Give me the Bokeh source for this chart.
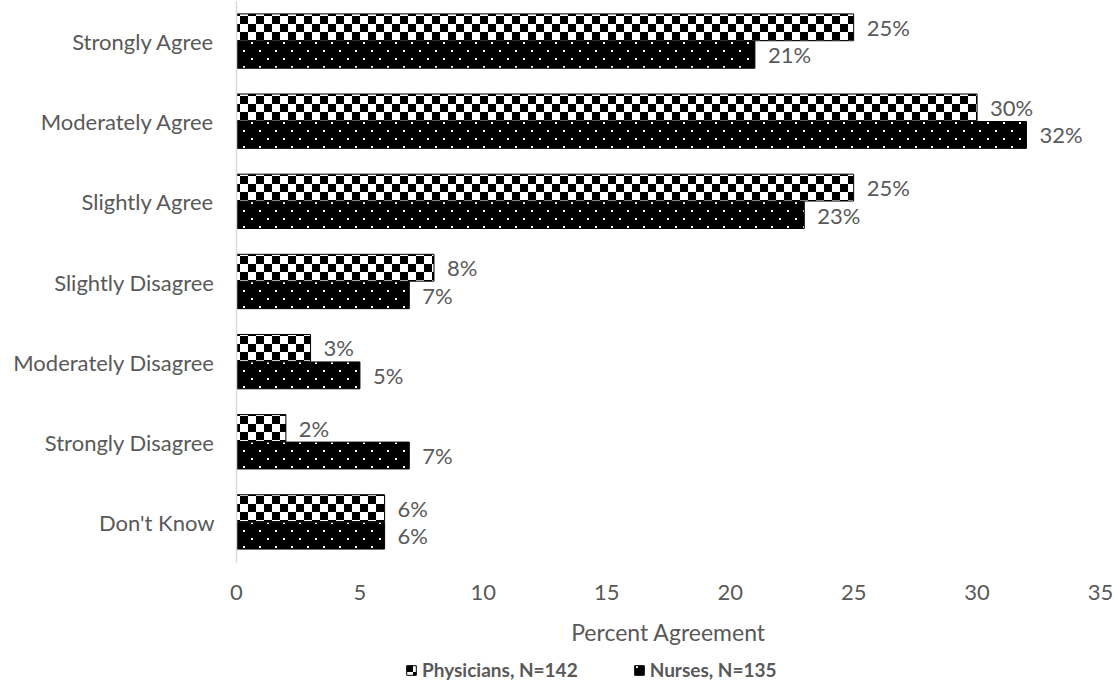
from bokeh.plotting import figure
from bokeh.models import (ColumnDataSource, FactorRange, Range1d, Legend, LegendItem,
                          CanvasTexture, FixedTicker, LabelSet)
from bokeh.core.properties import value
from bokeh.layouts import column
from bokeh.transform import dodge
from bokeh.embed import file_html
from bokeh.resources import INLINE

categories = ["Strongly Agree", "Moderately Agree", "Slightly Agree", "Slightly Disagree",
              "Moderately Disagree", "Strongly Disagree", "Don't Know"]
physicians = [25, 30, 25, 8, 3, 2, 6]
nurses = [21, 32, 23, 7, 5, 7, 6]
x_ticks = [0, 5, 10, 15, 20, 25, 30, 35]
series_names = ["Physicians, N=142", "Nurses, N=135"]

FONT = "Lato"
GRAY = "#595959"

src = ColumnDataSource(dict(
    cat=categories,
    phys=physicians,
    nurs=nurses,
    phys_lbl=[f"{v}%" for v in physicians],
    nurs_lbl=[f"{v}%" for v in nurses],
))

# checkerboard tile (16 px): two black 8 px squares
checker = CanvasTexture(code="""
const c = ctx.canvas;
c.width = 16; c.height = 16;
const g = c.getContext("2d");
g.setTransform(1, 0, 0, 1, 0, 0);
g.fillStyle = "#000000";
g.fillRect(0, 0, 8, 8);
g.fillRect(8, 8, 8, 8);
""")

# staggered white 2 px dots (16 px tile)
dots = CanvasTexture(code="""
const c = ctx.canvas;
c.width = 16; c.height = 16;
const g = c.getContext("2d");
g.setTransform(1, 0, 0, 1, 0, 0);
g.fillStyle = "#ffffff";
g.fillRect(3, 2, 2, 2);
g.fillRect(11, 10, 2, 2);
""")

PHYS_STYLE = dict(fill_color="white", line_color="black", line_width=1,
                  hatch_pattern=value("chk"), hatch_extra={"chk": checker},
                  hatch_color="black", hatch_scale=16)
NURS_STYLE = dict(fill_color="black", line_color="black", line_width=1,
                  hatch_pattern=value("dts"), hatch_extra={"dts": dots},
                  hatch_color="white", hatch_scale=16)

p = figure(
    frame_width=864, frame_height=561,
    y_range=FactorRange(*reversed(categories), range_padding=0),
    x_range=Range1d(0, 35),
    output_backend="svg", toolbar_location=None,
    min_border_left=236, min_border_right=18, min_border_top=1, min_border_bottom=0,
)
p.outline_line_color = None
p.xgrid.visible = False
p.ygrid.visible = False

bar_h = 0.335
p.hbar(y=dodge("cat", 0.178, range=p.y_range), right="phys", left=0, height=bar_h,
       source=src, **PHYS_STYLE)
p.hbar(y=dodge("cat", -0.165, range=p.y_range), right="nurs", left=0, height=bar_h,
       source=src, **NURS_STYLE)

for col, lbl, off in (("phys", "phys_lbl", 0.178), ("nurs", "nurs_lbl", -0.165)):
    p.add_layout(LabelSet(x=col, y=dodge("cat", off, range=p.y_range), text=lbl, source=src,
                          x_offset=13, text_baseline="middle", text_font=value(FONT),
                          text_font_size="22px", text_color=GRAY))

# x axis
xa = p.xaxis[0]
xa.ticker = FixedTicker(ticks=x_ticks)
xa.axis_line_color = None
xa.major_tick_line_color = None
xa.minor_tick_line_color = None
xa.major_tick_out = 0
xa.major_label_text_font = FONT
xa.major_label_text_font_size = "22px"
xa.major_label_text_color = GRAY
xa.major_label_standoff = 22
xa.axis_label = "Percent Agreement"
xa.axis_label_text_font = FONT
xa.axis_label_text_font_style = "normal"
xa.axis_label_text_font_size = "23px"
xa.axis_label_text_color = GRAY
xa.axis_label_standoff = 15

# y axis
ya = p.yaxis[0]
ya.axis_line_color = "#d9d9d9"
ya.axis_line_width = 1.5
ya.major_tick_line_color = None
ya.minor_tick_line_color = None
ya.major_tick_out = 0
ya.major_label_text_font = FONT
ya.major_label_text_font_size = "22px"
ya.major_label_text_color = GRAY
ya.major_label_standoff = 22

# legend strip underneath the chart; its glyphs are hidden stand-ins for the bars
leg = figure(frame_width=1118, frame_height=36, output_backend="svg", toolbar_location=None,
             x_axis_location=None, y_axis_location=None, min_border=0,
             x_range=Range1d(0, 1), y_range=Range1d(0, 1))
leg.outline_line_color = None
leg.xgrid.visible = False
leg.ygrid.visible = False
g_phys = leg.hbar(y="phys", right="phys", left=0, height=1, source=src, visible=False,
                  **PHYS_STYLE)
g_nurs = leg.hbar(y="nurs", right="nurs", left=0, height=1, source=src, visible=False,
                  **NURS_STYLE)

legend = Legend(
    items=[LegendItem(label=series_names[0], renderers=[g_phys]),
           LegendItem(label=series_names[1], renderers=[g_nurs])],
    orientation="horizontal", location=(405, 3), click_policy="none",
    label_text_font=FONT, label_text_font_style="bold", label_text_font_size="19px",
    label_text_color=GRAY, glyph_width=12, glyph_height=12, spacing=55,
    label_standoff=5, label_height=20, border_line_color=None, background_fill_alpha=0,
    inactive_fill_alpha=0, padding=0, margin=0,
)
leg.add_layout(legend, "center")

open("out.html", "w").write(file_html(column(p, leg, spacing=0), INLINE))
